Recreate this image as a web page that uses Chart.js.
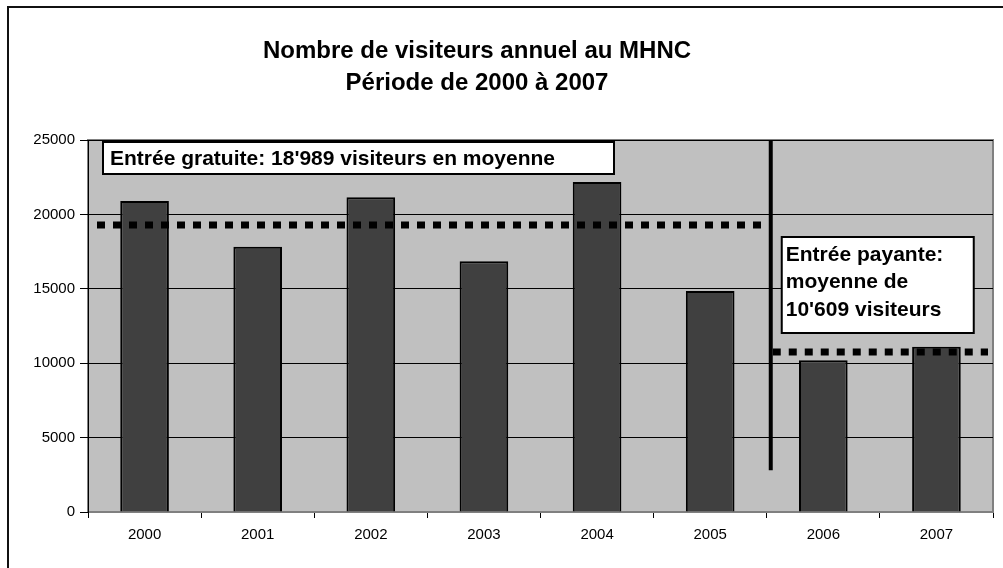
<!DOCTYPE html>
<html>
<head>
<meta charset="utf-8">
<script src="https://cdn.jsdelivr.net/npm/chart.js@4"></script>
<style>
  html, body { margin: 0; padding: 0; background: #fff; }
  #wrap { width: 1003px; height: 568px; }
</style>
</head>
<body>
<div id="wrap"><canvas id="visitChart" width="1003" height="568"></canvas></div>
<script>
// ── données ──
const years = ['2000', '2001', '2002', '2003', '2004', '2005', '2006', '2007'];
const visitors = [20900, 17830, 21150, 16850, 22180, 14850, 10200, 11100];
const yTicks = [0, 5000, 10000, 15000, 20000, 25000];

// moyennes (position) et textes
const freeAvgLevel = 19300;
const paidAvgLevel = 10750;
const freeLabel = ["Entrée gratuite: 18'989 visiteurs en moyenne"];
const paidLabel = ['Entrée payante:', 'moyenne de', "10'609 visiteurs"];
const titleLines = ['Nombre de visiteurs annuel au MHNC', 'Période de 2000 à 2007'];
const splitAfter = 5;          // séparation entre 2005 et 2006
const splitBottomValue = 2800; // bas du trait vertical

const FONT = '"Liberation Sans", Arial, sans-serif';

// ── fond, cadre, titre, moyennes, annotations ──
const decorPlugin = {
    id: 'decor',
    beforeDraw(chart) {
        const { ctx, chartArea: a } = chart;
        ctx.save();
        ctx.fillStyle = '#fff';
        ctx.fillRect(0, 0, chart.width, chart.height);
        // cadre extérieur
        ctx.strokeStyle = '#111';
        ctx.lineWidth = 2;
        ctx.strokeRect(8, 7, 1200, 700);
        // zone de tracé
        ctx.fillStyle = '#c0c0c0';
        ctx.fillRect(a.left, a.top, a.right - a.left, a.bottom - a.top);
        ctx.strokeStyle = '#808080';
        ctx.lineWidth = 2;
        ctx.strokeRect(a.left, a.top, a.right - a.left, a.bottom - a.top);
        // titre
        ctx.fillStyle = '#000';
        ctx.font = 'bold 24px ' + FONT;
        ctx.textAlign = 'center';
        ctx.textBaseline = 'middle';
        titleLines.forEach((t, i) => ctx.fillText(t, 477, 51 + i * 32));
        ctx.restore();
    },
    afterDatasetsDraw(chart) {
        const { ctx, chartArea: a, scales: { x, y } } = chart;
        const half = (x.getPixelForValue(1) - x.getPixelForValue(0)) / 2;
        const splitX = x.getPixelForValue(splitAfter) + half + 4;

        ctx.save();
        // lignes pointillées des moyennes
        ctx.strokeStyle = '#000';
        ctx.lineWidth = 7;
        ctx.setLineDash([8, 8]);
        let yy = Math.round(y.getPixelForValue(freeAvgLevel));
        ctx.beginPath();
        ctx.moveTo(a.left + 9, yy);
        ctx.lineTo(splitX - 6, yy);
        ctx.stroke();
        yy = Math.round(y.getPixelForValue(paidAvgLevel));
        ctx.beginPath();
        ctx.moveTo(splitX + 2, yy);
        ctx.lineTo(a.right - 5, yy);
        ctx.stroke();
        ctx.setLineDash([]);

        // trait vertical de séparation
        ctx.lineWidth = 4;
        ctx.beginPath();
        ctx.moveTo(splitX, a.top);
        ctx.lineTo(splitX, y.getPixelForValue(splitBottomValue));
        ctx.stroke();

        // boîte "Entrée gratuite"
        ctx.font = 'bold 21px ' + FONT;
        ctx.textBaseline = 'middle';
        ctx.lineWidth = 2;
        ctx.fillStyle = '#fff';
        ctx.fillRect(a.left + 15, a.top + 2, 511, 32);
        ctx.strokeRect(a.left + 15, a.top + 2, 511, 32);
        ctx.fillStyle = '#000';
        ctx.fillText(freeLabel[0], a.left + 22, a.top + 19);

        // boîte "Entrée payante"
        const bx = splitX + 11;
        const by = a.top + 97;
        ctx.fillStyle = '#fff';
        ctx.fillRect(bx, by, 192, 96);
        ctx.strokeRect(bx, by, 192, 96);
        ctx.fillStyle = '#000';
        paidLabel.forEach((line, i) => {
            ctx.fillText(line, bx + 4, by + 18 + i * 27.5);
        });
        ctx.restore();
    }
};

// ── graphique ──
const ctx = document.getElementById('visitChart').getContext('2d');
const visitChart = new Chart(ctx, {
    type: 'bar',
    data: {
        labels: years,
        datasets: [{
            data: visitors,
            backgroundColor: '#404040',
            borderColor: '#000',
            borderWidth: 2,
            borderSkipped: 'bottom',
            barPercentage: 0.43,
            categoryPercentage: 1
        }]
    },
    options: {
        responsive: false,
        animation: false,
        devicePixelRatio: 1,
        layout: { padding: { left: 0, right: 10, top: 140, bottom: 0 } },
        plugins: {
            legend: { display: false },
            tooltip: { enabled: false },
            title: { display: false }
        },
        scales: {
            x: {
                afterFit: s => { s.height = 56; },
                grid: { offset: true, drawOnChartArea: false, drawTicks: true, tickLength: 6, color: '#000' },
                border: { color: '#808080', width: 1 },
                ticks: { color: '#000', font: { family: FONT, size: 15 }, padding: 8 }
            },
            y: {
                min: 0,
                max: 25000,
                afterFit: s => { s.width = 88; },
                afterBuildTicks: s => { s.ticks = yTicks.map(v => ({ value: v })); },
                grid: { color: '#000', lineWidth: 1, tickLength: 8 },
                border: { color: '#000', width: 1 },
                ticks: {
                    color: '#000',
                    font: { family: FONT, size: 15 },
                    padding: 5,
                    callback: v => String(v)
                }
            }
        }
    },
    plugins: [decorPlugin]
});
</script>
</body>
</html>
